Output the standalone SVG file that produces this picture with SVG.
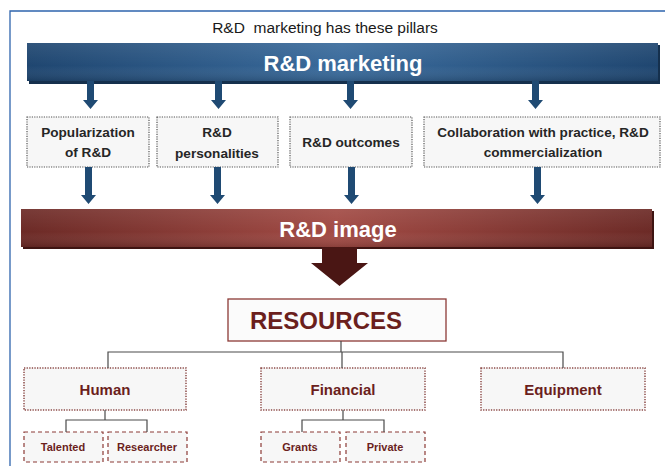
<svg xmlns="http://www.w3.org/2000/svg" width="665" height="466" viewBox="0 0 665 466">
<defs>
<linearGradient id="blueG" x1="0" y1="0" x2="1" y2="0">
<stop offset="0" stop-color="#1f4670"/>
<stop offset="0.5" stop-color="#3a6b9c"/>
<stop offset="1" stop-color="#1f4670"/>
</linearGradient>
<linearGradient id="blueV" x1="0" y1="0" x2="0" y2="1">
<stop offset="0" stop-color="#ffffff" stop-opacity="0.08"/>
<stop offset="0.6" stop-color="#ffffff" stop-opacity="0"/>
<stop offset="1" stop-color="#000000" stop-opacity="0.15"/>
</linearGradient>
<linearGradient id="redG" x1="0" y1="0" x2="1" y2="0">
<stop offset="0" stop-color="#6c2a26"/>
<stop offset="0.5" stop-color="#a24b45"/>
<stop offset="1" stop-color="#6c2a26"/>
</linearGradient>
</defs>
<style>
.frame{stroke:#2e64ad;stroke-width:1.3;fill:none}
.bartxt{font-family:"Liberation Sans",Arial,sans-serif;font-weight:bold;fill:#ffffff;text-anchor:middle}
.pillar{fill:#f7f7f7;stroke:#555;stroke-width:1.2;stroke-dasharray:1.2 1.2}
.ptxt{font-family:"Liberation Sans",Arial,sans-serif;font-size:13.6px;font-weight:bold;fill:#262626;text-anchor:middle}
.barrow{fill:#1f4a73}
.res{fill:#fbfbfb;stroke:#8c3a36;stroke-width:1.3}
.l3{fill:#f7f7f7;stroke:#8c4b48;stroke-width:1.5;stroke-dasharray:1.3 1.3}
.l4{fill:#f7f7f7;stroke:#8c3a36;stroke-width:1.2;stroke-dasharray:4 3}
.rtxt{font-family:"Liberation Sans",Arial,sans-serif;font-weight:bold;fill:#6b1f1d;text-anchor:middle}
.conn{stroke:#4a4a4a;stroke-width:1.2;fill:none}
</style>

<path class="frame" d="M665 11 H10 V466"/>

<text x="325" y="33" xml:space="preserve" style="font-family:'Liberation Sans',Arial,sans-serif;font-size:15.5px;fill:#1a1a1a;text-anchor:middle">R&amp;D  marketing has these pillars</text>

<g id="rd-marketing">
<rect x="29" y="45" width="631" height="39" fill="#15304d"/>
<rect x="27" y="43" width="631" height="38" fill="url(#blueG)"/>
<rect x="27" y="43" width="631" height="38" fill="url(#blueV)"/>
<text class="bartxt" x="343" y="71" font-size="22">R&amp;D marketing</text>
</g>

<g id="pillar-popularization">
<rect class="pillar" x="27" y="117" width="122" height="50"/>
<text class="ptxt" x="88" y="137">Popularization</text>
<text class="ptxt" x="88" y="157">of R&amp;D</text>
</g>
<g id="pillar-personalities">
<rect class="pillar" x="157" y="117" width="121" height="50"/>
<text class="ptxt" x="217" y="137">R&amp;D</text>
<text class="ptxt" x="217" y="158">personalities</text>
</g>
<g id="pillar-outcomes">
<rect class="pillar" x="290" y="117" width="122" height="50"/>
<text class="ptxt" x="351" y="147">R&amp;D outcomes</text>
</g>
<g id="pillar-collaboration">
<rect class="pillar" x="424" y="117" width="236" height="50"/>
<text class="ptxt" x="543" y="137">Collaboration with practice, R&amp;D</text>
<text class="ptxt" x="543" y="157">commercialization</text>
</g>

<g id="rd-image">
<rect x="23" y="211" width="631" height="38" fill="#3e1412"/>
<rect x="21" y="209" width="631" height="38" fill="url(#redG)"/>
<rect x="21" y="209" width="631" height="38" fill="url(#blueV)"/>
<text class="bartxt" x="338" y="237" font-size="22">R&amp;D image</text>
</g>

<g id="resources">
<rect class="res" x="228" y="299" width="218" height="42"/>
<text class="rtxt" x="326" y="329" font-size="24">RESOURCES</text>
</g>

<g id="human">
<rect class="l3" x="24" y="368" width="162" height="42"/>
<text class="rtxt" x="105" y="395" font-size="15">Human</text>
</g>
<g id="financial">
<rect class="l3" x="261" y="368" width="164" height="42"/>
<text class="rtxt" x="343" y="395" font-size="15">Financial</text>
</g>
<g id="equipment">
<rect class="l3" x="481" y="368" width="164" height="42"/>
<text class="rtxt" x="563" y="395" font-size="15">Equipment</text>
</g>

<g id="talented">
<rect class="l4" x="24" y="432" width="79" height="30"/>
<text class="rtxt" x="63" y="451" font-size="11">Talented</text>
</g>
<g id="researcher">
<rect class="l4" x="108" y="432" width="79" height="30"/>
<text class="rtxt" x="147" y="451" font-size="11">Researcher</text>
</g>
<g id="grants">
<rect class="l4" x="261" y="432" width="79" height="30"/>
<text class="rtxt" x="300" y="451" font-size="11">Grants</text>
</g>
<g id="private">
<rect class="l4" x="346" y="432" width="79" height="30"/>
<text class="rtxt" x="385" y="451" font-size="11">Private</text>
</g>

<g id="connectors">
<path class="barrow" d="M87 81 H94 V100 H98 L90.5 109 L83 100 H87 Z"/>
<path class="barrow" d="M215 81 H222 V100 H226 L218.5 109 L211 100 H215 Z"/>
<path class="barrow" d="M347 81 H354 V100 H358 L350.5 109 L343 100 H347 Z"/>
<path class="barrow" d="M532 81 H539 V100 H543 L535.5 109 L528 100 H532 Z"/>

<path class="barrow" d="M85 167 H92 V195 H96 L88.5 204 L81 195 H85 Z"/>
<path class="barrow" d="M214 167 H221 V195 H225 L217.5 204 L210 195 H214 Z"/>
<path class="barrow" d="M348 167 H355 V195 H359 L351.5 204 L344 195 H348 Z"/>
<path class="barrow" d="M534 167 H541 V195 H545 L537.5 204 L530 195 H534 Z"/>

<path d="M322 247 H357 V263 H368 L339.5 286 L311 263 H322 Z" fill="#4a1614"/>

<path class="conn" d="M341 341 V352 M108 368 V352 H563 V368 M342 352 V368"/>
<path class="conn" d="M105 410 V420 M66 432 V420 H147 V432"/>
<path class="conn" d="M343 410 V420 M302 432 V420 H384 V432"/>
</g>
</svg>
